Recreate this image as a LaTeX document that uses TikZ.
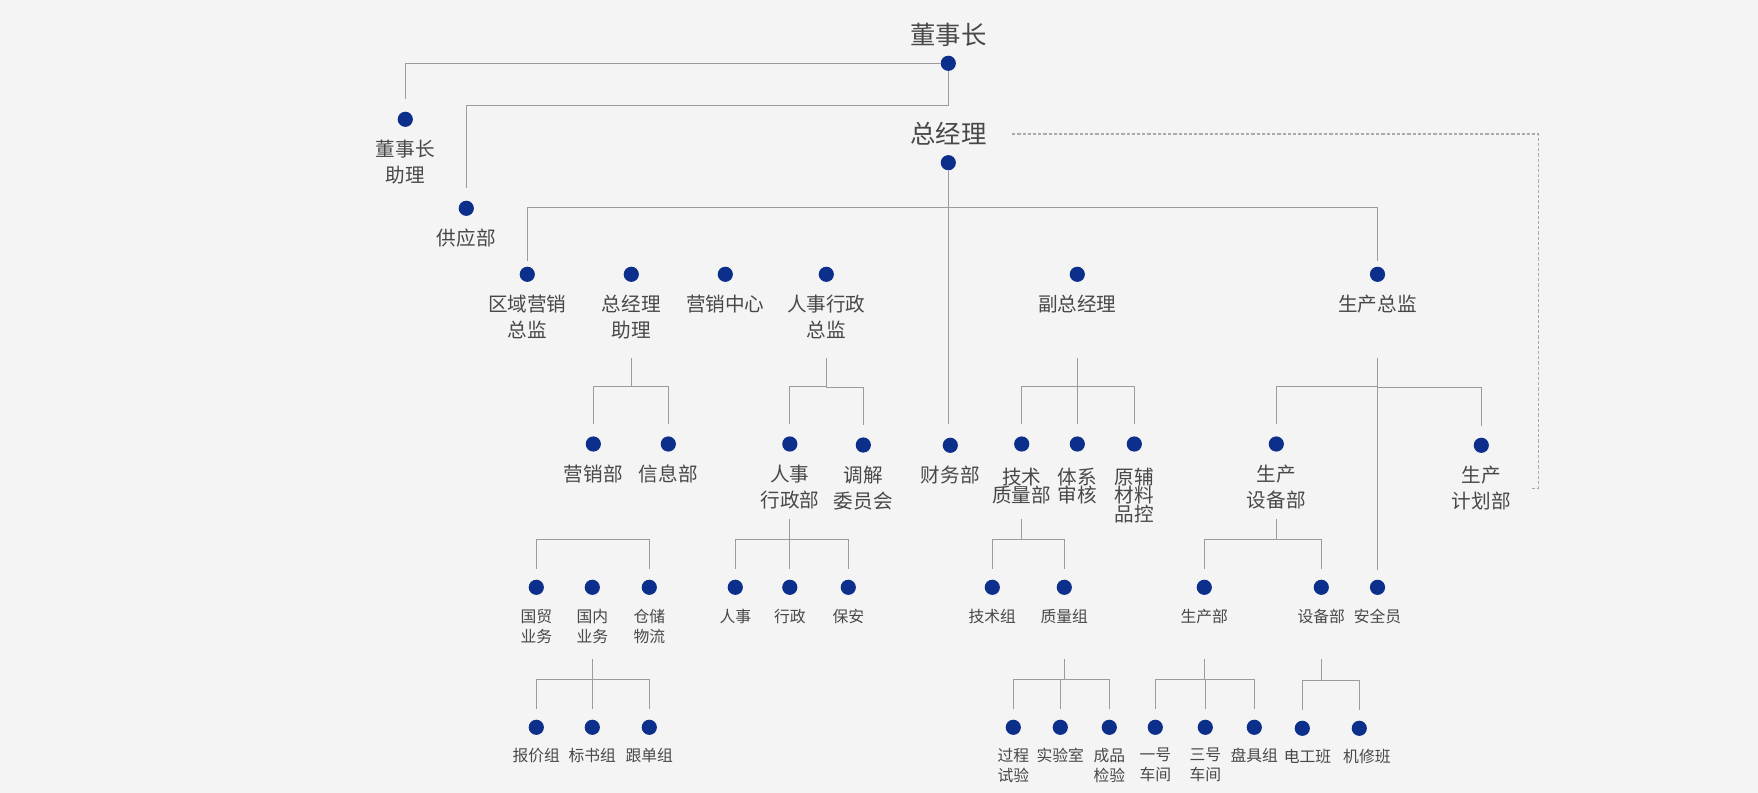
\documentclass[tikz,border=0pt]{standalone}
\usepackage{fontspec}
\newfontfamily\cjk{Noto Sans CJK SC}
\usetikzlibrary{positioning,calc}
\definecolor{bgcol}{HTML}{F4F4F4}
\definecolor{dotblue}{HTML}{0B2F8A}
\definecolor{linegray}{HTML}{9B9B9B}
\definecolor{txtgray}{HTML}{484848}
\tikzset{elbow/.style={to path={(\tikztostart.south) -- ($(\tikztotarget.north -| \tikztostart)+(0pt,#1)$) -| (\tikztotarget.north)}}}

\begin{document}
\begin{tikzpicture}[x=0.5pt, y=-0.5pt, node distance=6.3pt]
\tikzstyle{bullet}=[circle, fill=dotblue, inner sep=0pt, minimum size=7.6pt]
\tikzstyle{head}=[text=txtgray, inner sep=0pt, font=\cjk\fontsize{12.7}{15}\selectfont]
\tikzstyle{lab}=[text=txtgray, inner sep=0pt, align=center, font=\cjk\fontsize{9.8}{12.8}\selectfont]
\tikzstyle{labt}=[lab, font=\cjk\fontsize{9.8}{9.4}\selectfont]
\tikzstyle{labs}=[lab, font=\cjk\fontsize{7.9}{9.8}\selectfont]
\tikzstyle{link}=[draw=linegray, line width=0.55pt]
\tikzstyle{dline}=[draw=linegray!85, line width=0.55pt, dash pattern=on 1.6pt off 1pt]
\fill[bgcol] (0,0) rectangle (1758,793);
\useasboundingbox (0,0) rectangle (1758,793);

% top
\node[bullet]   (dsz)     at (948.3,63.3)   {};
\node[head]     (dsz-t)   [above=4.2pt of dsz]  {董事长};
\node[bullet]   (zjl)     at (948.3,162.7)  {};
\node[head]     (zjl-t)   [above=4.4pt of zjl]  {总经理};
\node[bullet]   (dszzl)   at (405.3,119.3)  {};
\node[lab]      (dszzl-t) [below=6.3pt of dszzl] {董事长\\助理};
\node[bullet]   (gyb)     at (466.3,208.3)  {};
\node[lab]      (gyb-t)   [below=6.3pt of gyb]   {供应部};

% second row
\node[bullet]   (qyzj)    at (527.3,274.3)  {};
\node[lab]      (qyzj-t)  [below=of qyzj]   {区域营销\\总监};
\node[bullet]   (zjlzl)   at (631.3,274.3)  {};
\node[lab]      (zjlzl-t) [below=of zjlzl]  {总经理\\助理};
\node[bullet]   (yxzx)    at (725.3,274.3)  {};
\node[lab]      (yxzx-t)  [below=of yxzx]   {营销中心};
\node[bullet]   (rszj)    at (826.3,274.3)  {};
\node[lab]      (rszj-t)  [below=of rszj]   {人事行政\\总监};
\node[bullet]   (fzjl)    at (1077.3,274.3) {};
\node[lab]      (fzjl-t)  [below=of fzjl]   {副总经理};
\node[bullet]   (sczj)    at (1377.5,274.3) {};
\node[lab]      (sczj-t)  [below=of sczj]   {生产总监};

% third row
\node[bullet]   (yxb)     at (593.3,444)    {};
\node[lab]      (yxb-t)   [below=of yxb]    {营销部};
\node[bullet]   (xxb)     at (668.3,444)    {};
\node[lab]      (xxb-t)   [below=of xxb]    {信息部};
\node[bullet]   (rsxzb)   at (789.8,444)    {};
\node[lab]      (rsxzb-t) [below=of rsxzb]  {人事\\行政部};
\node[bullet]   (tjwyh)   at (863.3,445)    {};
\node[lab]      (tjwyh-t) [below=of tjwyh]  {调解\\委员会};
\node[bullet]   (cwb)     at (950.3,445.3)  {};
\node[lab]      (cwb-t)   [below=of cwb]    {财务部};
\node[bullet]   (jszlb)   at (1021.7,444)   {};
\node[labt]     (jszlb-t) [below=7.6pt of jszlb] {技术\\质量部};
\node[bullet]   (txsh)    at (1077.3,444)   {};
\node[labt]     (txsh-t)  [below=7.6pt of txsh]  {体系\\审核};
\node[bullet]   (yfkc)    at (1134.3,444)   {};
\node[labt]     (yfkc-t)  [below=7.6pt of yfkc]  {原辅\\材料\\品控};
\node[bullet]   (sbb)     at (1276.3,444)   {};
\node[lab]      (sbb-t)   [below=of sbb]    {生产\\设备部};
\node[bullet]   (jhb)     at (1481.3,445.3) {};
\node[lab]      (jhb-t)   [below=of jhb]    {生产\\计划部};

% fourth row
\node[bullet]   (gm)      at (536.3,587.3)  {};
\node[labs]     (gm-t)    [below=6.9pt of gm]   {国贸\\业务};
\node[bullet]   (gn)      at (592.3,587.3)  {};
\node[labs]     (gn-t)    [below=6.9pt of gn]   {国内\\业务};
\node[bullet]   (cc)      at (649.3,587.3)  {};
\node[labs]     (cc-t)    [below=6.9pt of cc]   {仓储\\物流};
\node[bullet]   (rs)      at (735.3,587.3)  {};
\node[labs]     (rs-t)    [below=6.9pt of rs]   {人事};
\node[bullet]   (xz)      at (789.8,587.3)  {};
\node[labs]     (xz-t)    [below=6.9pt of xz]   {行政};
\node[bullet]   (ba)      at (848.3,587.3)  {};
\node[labs]     (ba-t)    [below=6.9pt of ba]   {保安};
\node[bullet]   (jsz)     at (992.3,587.3)  {};
\node[labs]     (jsz-t)   [below=6.9pt of jsz]  {技术组};
\node[bullet]   (zlz)     at (1064.3,587.3) {};
\node[labs]     (zlz-t)   [below=6.9pt of zlz]  {质量组};
\node[bullet]   (scb)     at (1204.3,587.3) {};
\node[labs]     (scb-t)   [below=6.9pt of scb]  {生产部};
\node[bullet]   (sbz)     at (1321.3,587.3) {};
\node[labs]     (sbz-t)   [below=6.9pt of sbz]  {设备部};
\node[bullet]   (aqy)     at (1377.5,587.3) {};
\node[labs]     (aqy-t)   [below=6.9pt of aqy]  {安全员};

% fifth row
\node[bullet]   (bjz)     at (536.3,727.3)  {};
\node[labs]     (bjz-t)   [below=of bjz]    {报价组};
\node[bullet]   (bsz)     at (592.3,727.3)  {};
\node[labs]     (bsz-t)   [below=of bsz]    {标书组};
\node[bullet]   (gdz)     at (649.3,727.3)  {};
\node[labs]     (gdz-t)   [below=of gdz]    {跟单组};
\node[bullet]   (gcsy)    at (1013.3,727.3) {};
\node[labs]     (gcsy-t)  [below=of gcsy]   {过程\\试验};
\node[bullet]   (sys)     at (1060.3,727.3) {};
\node[labs]     (sys-t)   [below=of sys]    {实验室};
\node[bullet]   (cpjy)    at (1109.3,727.3) {};
\node[labs]     (cpjy-t)  [below=of cpjy]   {成品\\检验};
\node[bullet]   (yhcj)    at (1155.3,727.3) {};
\node[labs]     (yhcj-t)  [below=of yhcj]   {一号\\车间};
\node[bullet]   (shcj)    at (1205.3,727.3) {};
\node[labs]     (shcj-t)  [below=of shcj]   {三号\\车间};
\node[bullet]   (pjz)     at (1254.3,727.3) {};
\node[labs]     (pjz-t)   [below=of pjz]    {盘具组};
\node[bullet]   (dgb)     at (1302.3,728.3) {};
\node[labs]     (dgb-t)   [below=of dgb, xshift=2.6pt] {电工班};
\node[bullet]   (jxb)     at (1359.3,728.3) {};
\node[labs]     (jxb-t)   [below=of jxb, xshift=3.8pt] {机修班};

% lines
\draw[link, shorten >=6pt] (dsz.west) -| (dszzl.north);
\draw[link, shorten >=6.35pt] (dsz.south) -- ++(0pt,-17.2pt) -| (gyb.north);
\draw[link, shorten >=6.5pt] (zjl.south) -- (zjl.south |- cwb.north);
\draw[link, shorten <=2.65pt, shorten >=2.65pt] (qyzj.north) -- ++(0pt,29.2pt) -| (sczj.north);
\draw[link, shorten <=38pt, shorten >=4.85pt] (sczj.south) -- (aqy.north);
\draw[link, shorten <=5.35pt, shorten >=5.35pt] (gm.north) -- ++(0pt,19.85pt) -| (cc.north);
\draw[dline] ([xshift=12.65pt]zjl-t.east) -| ([xshift=13.8pt]jhb-t.east) -- ([xshift=10.15pt]jhb-t.east);
\path[link, elbow=24.85pt, shorten <=38pt, shorten >=5.85pt]
(zjlzl) edge (yxb)
        edge (xxb)
(rszj)  edge (rsxzb)
        edge (tjwyh)
(fzjl)  edge (jszlb)
        edge (txsh)
        edge (yfkc)
(sczj)  edge (sbb)
        edge (jhb);
\path[link, elbow=19.85pt, shorten <=33.5pt, shorten >=5.35pt]
(rsxzb) edge (rs)
        edge (xz)
        edge (ba)
(jszlb) edge (jsz)
        edge (zlz)
(sbb)   edge (scb)
        edge (sbz);
\path[link, elbow=19.85pt, shorten <=31.85pt, shorten >=5.35pt]
(gn)    edge (bjz)
        edge (bsz)
        edge (gdz)
(zlz)   edge (gcsy)
        edge (sys)
        edge (cpjy)
(scb)   edge (yhcj)
        edge (shcj)
        edge (pjz)
(sbz)   edge (dgb)
        edge (jxb);
\end{tikzpicture}
\end{document}
